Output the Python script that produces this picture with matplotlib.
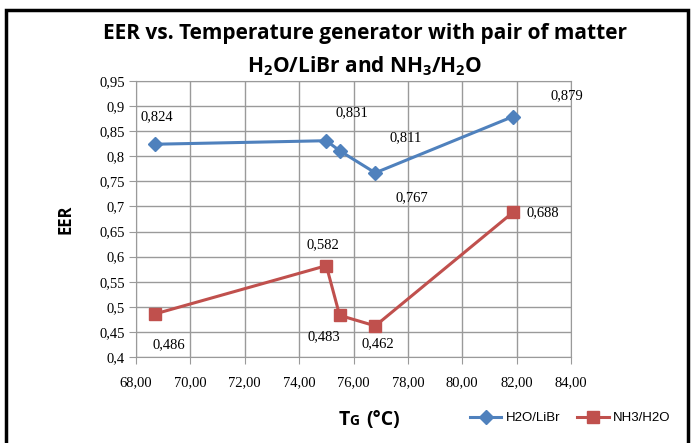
import numpy as np
import matplotlib
matplotlib.use("Agg")
import matplotlib.pyplot as plt
from matplotlib.patches import Rectangle

# data
tg = [68.71, 75.0, 75.49, 76.8, 81.86]
eer_libr = [0.824, 0.831, 0.811, 0.767, 0.879]
eer_nh3 = [0.486, 0.582, 0.483, 0.462, 0.688]
x_ticks = [68, 70, 72, 74, 76, 78, 80, 82, 84]
y_ticks = [0.4, 0.45, 0.5, 0.55, 0.6, 0.65, 0.7, 0.75, 0.8, 0.85, 0.9, 0.95]

# label offsets (pixels) like Excel put them
libr_offsets = [(2, 28), (26, 28), (66, 13), (37, -25), (54, 21)]
nh3_offsets = [(14, -31), (-3, 21), (-16, -21), (3, -18), (30, 0)]

blue = "#4F81BD"
red = "#C0504D"

plt.rcParams["mathtext.default"] = "regular"

fig = plt.figure(figsize=(6.92, 4.43), dpi=100)
fig.patches.append(Rectangle((6 / 692, -0.05), 682 / 692, 1.05 - 10 / 443,
                             transform=fig.transFigure, fill=False,
                             edgecolor="black", linewidth=2.5))

ax = fig.add_axes([136 / 692, 1 - 357 / 443, 435 / 692, 276 / 443])

ax.plot(tg, eer_libr, color=blue, marker="D", markersize=7, linewidth=2.2,
        label="H2O/LiBr")
ax.plot(tg, eer_nh3, color=red, marker="s", markersize=8, linewidth=2.2,
        label="NH3/H2O")

def fmt(v):
    return ("%.3f" % v).replace(".", ",")

for x, y, off in zip(tg, eer_libr, libr_offsets):
    ax.annotate(fmt(y), (x, y), xytext=off, textcoords="offset pixels",
                ha="center", va="center", fontsize=10.5,
                family="Liberation Serif")
for x, y, off in zip(tg, eer_nh3, nh3_offsets):
    ax.annotate(fmt(y), (x, y), xytext=off, textcoords="offset pixels",
                ha="center", va="center", fontsize=10.5,
                family="Liberation Serif")

ax.set_xlim(68, 84)
ax.set_ylim(0.4, 0.95)
ax.set_xticks(x_ticks)
ax.set_yticks(y_ticks)
ax.set_xticklabels([("%.2f" % t).replace(".", ",") for t in x_ticks],
                   family="Liberation Serif", fontsize=10.5)
ax.set_yticklabels([("%g" % t).replace(".", ",") for t in y_ticks],
                   family="Liberation Serif", fontsize=10.5)
ax.grid(True, color="#9a9a9a", linewidth=1)
ax.set_axisbelow(True)
for s in ax.spines.values():
    s.set_color("#9a9a9a")
ax.tick_params(direction="out", length=5, color="#9a9a9a", pad=3)
ax.tick_params(axis="x", pad=9)

ax.set_ylabel("EER", fontsize=12, fontweight="bold", family="Open Sans",
              labelpad=18)

fig.text(0.527, 1 - 33 / 443, "EER vs. Temperature generator with pair of matter",
         ha="center", va="center", fontsize=15, fontweight="bold",
         family="Open Sans")
fig.text(0.527, 1 - 66 / 443, "H$_2$O/LiBr and NH$_3$/H$_2$O",
         ha="center", va="center", fontsize=15, fontweight="bold",
         family="Open Sans")

# x label with small-cap G
yb = 1 - 425 / 443
fig.text(0.505, yb, "T", ha="right", va="baseline",
         fontsize=14, fontweight="bold", family="Open Sans")
fig.text(0.505, yb, "G", ha="left", va="baseline",
         fontsize=10, fontweight="bold", family="Open Sans")
fig.text(0.529, yb, "(°C)", ha="left", va="baseline",
         fontsize=14, fontweight="bold", family="Open Sans")

fig.legend(loc="center", bbox_to_anchor=(570 / 692, 1 - 418 / 443), ncol=2,
           frameon=False, handlelength=2.4, columnspacing=1.3,
           handletextpad=0.3,
           prop={"family": "Liberation Sans", "size": 9.5})

fig.savefig("out.png", dpi=100)
